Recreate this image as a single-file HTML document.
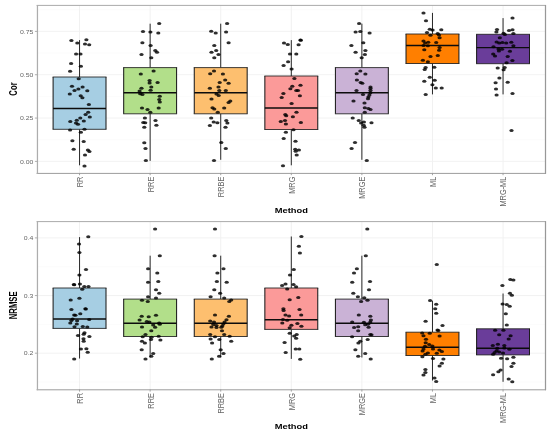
<!DOCTYPE html>
<html lang="en"><head><meta charset="utf-8"><title>Boxplots of Cor and NRMSE by Method</title>
<style>html,body{margin:0;padding:0;background:#fff}svg{display:block}text{font-family:"Liberation Sans",Arial,Helvetica,sans-serif}</style></head><body>
<svg width="550" height="433" viewBox="0 0 550 433">
<rect x="0" y="0" width="550" height="433" fill="#ffffff"/>
<g>
<line x1="37.2" x2="545.4" y1="139.73" y2="139.73" stroke="#f7f7f7" stroke-width="0.5"/>
<line x1="37.2" x2="545.4" y1="96.4" y2="96.4" stroke="#f7f7f7" stroke-width="0.5"/>
<line x1="37.2" x2="545.4" y1="53.07" y2="53.07" stroke="#f7f7f7" stroke-width="0.5"/>
<line x1="37.2" x2="545.4" y1="9.73" y2="9.73" stroke="#f7f7f7" stroke-width="0.5"/>
<line x1="37.2" x2="545.4" y1="161.4" y2="161.4" stroke="#f1f1f1" stroke-width="0.9"/>
<line x1="37.2" x2="545.4" y1="118.07" y2="118.07" stroke="#f1f1f1" stroke-width="0.9"/>
<line x1="37.2" x2="545.4" y1="74.73" y2="74.73" stroke="#f1f1f1" stroke-width="0.9"/>
<line x1="37.2" x2="545.4" y1="31.4" y2="31.4" stroke="#f1f1f1" stroke-width="0.9"/>
<line x1="79.55" x2="79.55" y1="5" y2="173" stroke="#f1f1f1" stroke-width="1"/>
<line x1="150.13" x2="150.13" y1="5" y2="173" stroke="#f1f1f1" stroke-width="1"/>
<line x1="220.72" x2="220.72" y1="5" y2="173" stroke="#f1f1f1" stroke-width="1"/>
<line x1="291.3" x2="291.3" y1="5" y2="173" stroke="#f1f1f1" stroke-width="1"/>
<line x1="361.88" x2="361.88" y1="5" y2="173" stroke="#f1f1f1" stroke-width="1"/>
<line x1="432.47" x2="432.47" y1="5" y2="173" stroke="#f1f1f1" stroke-width="1"/>
<line x1="503.05" x2="503.05" y1="5" y2="173" stroke="#f1f1f1" stroke-width="1"/>
</g>
<g stroke="#1c1c1c">
<line x1="79.55" x2="79.55" y1="40.1" y2="77" stroke-width="0.95"/>
<line x1="79.55" x2="79.55" y1="129.3" y2="165.3" stroke-width="0.95"/>
<rect x="53.1" y="77" width="52.9" height="52.3" fill="#A6CEE3" stroke="none"/>
<line x1="52.6" x2="106.5" y1="77" y2="77" stroke-width="0.85"/>
<line x1="52.6" x2="106.5" y1="129.3" y2="129.3" stroke-width="0.85"/>
<line x1="53.1" x2="53.1" y1="77" y2="129.3" stroke-width="1.05"/>
<line x1="106" x2="106" y1="77" y2="129.3" stroke-width="1.05"/>
<line x1="53.1" x2="106" y1="108.45" y2="108.45" stroke="#0c0c0c" stroke-width="1.45"/>
</g>
<g stroke="#1c1c1c">
<line x1="150.13" x2="150.13" y1="23.7" y2="67.6" stroke-width="0.95"/>
<line x1="150.13" x2="150.13" y1="113.8" y2="160.9" stroke-width="0.95"/>
<rect x="123.68" y="67.6" width="52.9" height="46.2" fill="#B2DF8A" stroke="none"/>
<line x1="123.18" x2="177.08" y1="67.6" y2="67.6" stroke-width="0.85"/>
<line x1="123.18" x2="177.08" y1="113.8" y2="113.8" stroke-width="0.85"/>
<line x1="123.68" x2="123.68" y1="67.6" y2="113.8" stroke-width="1.05"/>
<line x1="176.58" x2="176.58" y1="67.6" y2="113.8" stroke-width="1.05"/>
<line x1="123.68" x2="176.58" y1="92.7" y2="92.7" stroke="#0c0c0c" stroke-width="1.45"/>
</g>
<g stroke="#1c1c1c">
<line x1="220.72" x2="220.72" y1="23.7" y2="67.6" stroke-width="0.95"/>
<line x1="220.72" x2="220.72" y1="113.8" y2="159.8" stroke-width="0.95"/>
<rect x="194.27" y="67.6" width="52.9" height="46.2" fill="#FDBF6F" stroke="none"/>
<line x1="193.77" x2="247.67" y1="67.6" y2="67.6" stroke-width="0.85"/>
<line x1="193.77" x2="247.67" y1="113.8" y2="113.8" stroke-width="0.85"/>
<line x1="194.27" x2="194.27" y1="67.6" y2="113.8" stroke-width="1.05"/>
<line x1="247.17" x2="247.17" y1="67.6" y2="113.8" stroke-width="1.05"/>
<line x1="194.27" x2="247.17" y1="92.7" y2="92.7" stroke="#0c0c0c" stroke-width="1.45"/>
</g>
<g stroke="#1c1c1c">
<line x1="291.3" x2="291.3" y1="40.1" y2="76" stroke-width="0.95"/>
<line x1="291.3" x2="291.3" y1="129.5" y2="165.3" stroke-width="0.95"/>
<rect x="264.85" y="76" width="52.9" height="53.5" fill="#FB9A99" stroke="none"/>
<line x1="264.35" x2="318.25" y1="76" y2="76" stroke-width="0.85"/>
<line x1="264.35" x2="318.25" y1="129.5" y2="129.5" stroke-width="0.85"/>
<line x1="264.85" x2="264.85" y1="76" y2="129.5" stroke-width="1.05"/>
<line x1="317.75" x2="317.75" y1="76" y2="129.5" stroke-width="1.05"/>
<line x1="264.85" x2="317.75" y1="107.9" y2="107.9" stroke="#0c0c0c" stroke-width="1.45"/>
</g>
<g stroke="#1c1c1c">
<line x1="361.88" x2="361.88" y1="23.7" y2="67.6" stroke-width="0.95"/>
<line x1="361.88" x2="361.88" y1="113.8" y2="159.8" stroke-width="0.95"/>
<rect x="335.43" y="67.6" width="52.9" height="46.2" fill="#CAB2D6" stroke="none"/>
<line x1="334.93" x2="388.83" y1="67.6" y2="67.6" stroke-width="0.85"/>
<line x1="334.93" x2="388.83" y1="113.8" y2="113.8" stroke-width="0.85"/>
<line x1="335.43" x2="335.43" y1="67.6" y2="113.8" stroke-width="1.05"/>
<line x1="388.33" x2="388.33" y1="67.6" y2="113.8" stroke-width="1.05"/>
<line x1="335.43" x2="388.33" y1="92.7" y2="92.7" stroke="#0c0c0c" stroke-width="1.45"/>
</g>
<g stroke="#1c1c1c">
<line x1="432.47" x2="432.47" y1="12.9" y2="34" stroke-width="0.95"/>
<line x1="432.47" x2="432.47" y1="63.5" y2="94.4" stroke-width="0.95"/>
<rect x="406.02" y="34" width="52.9" height="29.5" fill="#FF7F00" stroke="none"/>
<line x1="405.52" x2="459.42" y1="34" y2="34" stroke-width="0.85"/>
<line x1="405.52" x2="459.42" y1="63.5" y2="63.5" stroke-width="0.85"/>
<line x1="406.02" x2="406.02" y1="34" y2="63.5" stroke-width="1.05"/>
<line x1="458.92" x2="458.92" y1="34" y2="63.5" stroke-width="1.05"/>
<line x1="406.02" x2="458.92" y1="45.5" y2="45.5" stroke="#0c0c0c" stroke-width="1.45"/>
</g>
<g stroke="#1c1c1c">
<line x1="503.05" x2="503.05" y1="18.1" y2="34.3" stroke-width="0.95"/>
<line x1="503.05" x2="503.05" y1="63.7" y2="94.4" stroke-width="0.95"/>
<rect x="476.6" y="34.3" width="52.9" height="29.4" fill="#6A3D9A" stroke="none"/>
<line x1="476.1" x2="530" y1="34.3" y2="34.3" stroke-width="0.85"/>
<line x1="476.1" x2="530" y1="63.7" y2="63.7" stroke-width="0.85"/>
<line x1="476.6" x2="476.6" y1="34.3" y2="63.7" stroke-width="1.05"/>
<line x1="529.5" x2="529.5" y1="34.3" y2="63.7" stroke-width="1.05"/>
<line x1="476.6" x2="529.5" y1="47.6" y2="47.6" stroke="#0c0c0c" stroke-width="1.45"/>
</g>
<g fill="#000000" fill-opacity="0.82">
<ellipse cx="71.4" cy="40.4" rx="2.1" ry="1.5"/>
<ellipse cx="86.4" cy="39.7" rx="2.1" ry="1.5"/>
<ellipse cx="77.3" cy="42.9" rx="2.1" ry="1.5"/>
<ellipse cx="85" cy="43.9" rx="2.1" ry="1.5"/>
<ellipse cx="89.2" cy="44.7" rx="2.1" ry="1.5"/>
<ellipse cx="76.1" cy="54" rx="2.1" ry="1.5"/>
<ellipse cx="80.5" cy="54" rx="2.1" ry="1.5"/>
<ellipse cx="71.1" cy="63.5" rx="2.1" ry="1.5"/>
<ellipse cx="80.9" cy="66.3" rx="2.1" ry="1.5"/>
<ellipse cx="70.1" cy="71.3" rx="2.1" ry="1.5"/>
<ellipse cx="78.7" cy="78.7" rx="2.1" ry="1.5"/>
<ellipse cx="72" cy="86.2" rx="2.1" ry="1.5"/>
<ellipse cx="82.6" cy="86.9" rx="2.1" ry="1.5"/>
<ellipse cx="78.4" cy="89.1" rx="2.1" ry="1.5"/>
<ellipse cx="74.5" cy="90.6" rx="2.1" ry="1.5"/>
<ellipse cx="87.3" cy="90.7" rx="2.1" ry="1.5"/>
<ellipse cx="69.8" cy="93.9" rx="2.1" ry="1.5"/>
<ellipse cx="80.7" cy="95.7" rx="2.1" ry="1.5"/>
<ellipse cx="82.4" cy="97.7" rx="2.1" ry="1.5"/>
<ellipse cx="88.9" cy="104.4" rx="2.1" ry="1.5"/>
<ellipse cx="88.2" cy="112.3" rx="2.1" ry="1.5"/>
<ellipse cx="85.6" cy="114.5" rx="2.1" ry="1.5"/>
<ellipse cx="89.8" cy="117.1" rx="2.1" ry="1.5"/>
<ellipse cx="80.3" cy="118" rx="2.1" ry="1.5"/>
<ellipse cx="76.8" cy="120.3" rx="2.1" ry="1.5"/>
<ellipse cx="83.8" cy="120.9" rx="2.1" ry="1.5"/>
<ellipse cx="70.3" cy="121.5" rx="2.1" ry="1.5"/>
<ellipse cx="76" cy="123" rx="2.1" ry="1.5"/>
<ellipse cx="78" cy="124.2" rx="2.1" ry="1.5"/>
<ellipse cx="70.1" cy="130.1" rx="2.1" ry="1.5"/>
<ellipse cx="84.5" cy="129.2" rx="2.1" ry="1.5"/>
<ellipse cx="80.9" cy="132.3" rx="2.1" ry="1.5"/>
<ellipse cx="72.4" cy="140.7" rx="2.1" ry="1.5"/>
<ellipse cx="83.7" cy="141.5" rx="2.1" ry="1.5"/>
<ellipse cx="73.7" cy="149.2" rx="2.1" ry="1.5"/>
<ellipse cx="87.9" cy="150.1" rx="2.1" ry="1.5"/>
<ellipse cx="89.4" cy="151.5" rx="2.1" ry="1.5"/>
<ellipse cx="85" cy="154.9" rx="2.1" ry="1.5"/>
<ellipse cx="84.5" cy="166" rx="2.1" ry="1.5"/>
<ellipse cx="159.2" cy="23.6" rx="2.1" ry="1.5"/>
<ellipse cx="143" cy="31.4" rx="2.1" ry="1.5"/>
<ellipse cx="150.4" cy="31.9" rx="2.1" ry="1.5"/>
<ellipse cx="158.3" cy="32.9" rx="2.1" ry="1.5"/>
<ellipse cx="142.4" cy="42.8" rx="2.1" ry="1.5"/>
<ellipse cx="150.6" cy="45.6" rx="2.1" ry="1.5"/>
<ellipse cx="155.3" cy="50.5" rx="2.1" ry="1.5"/>
<ellipse cx="157" cy="52.3" rx="2.1" ry="1.5"/>
<ellipse cx="141.5" cy="54.5" rx="2.1" ry="1.5"/>
<ellipse cx="151.3" cy="57.7" rx="2.1" ry="1.5"/>
<ellipse cx="153.6" cy="71.1" rx="2.1" ry="1.5"/>
<ellipse cx="140.8" cy="74" rx="2.1" ry="1.5"/>
<ellipse cx="149.6" cy="80.4" rx="2.1" ry="1.5"/>
<ellipse cx="149.6" cy="82.9" rx="2.1" ry="1.5"/>
<ellipse cx="157.6" cy="82.5" rx="2.1" ry="1.5"/>
<ellipse cx="151.3" cy="87" rx="2.1" ry="1.5"/>
<ellipse cx="141.5" cy="88.3" rx="2.1" ry="1.5"/>
<ellipse cx="150.6" cy="90.3" rx="2.1" ry="1.5"/>
<ellipse cx="139.6" cy="90.9" rx="2.1" ry="1.5"/>
<ellipse cx="140.2" cy="93.7" rx="2.1" ry="1.5"/>
<ellipse cx="142.4" cy="94.6" rx="2.1" ry="1.5"/>
<ellipse cx="159.8" cy="96.3" rx="2.1" ry="1.5"/>
<ellipse cx="159.3" cy="99.5" rx="2.1" ry="1.5"/>
<ellipse cx="159.8" cy="102" rx="2.1" ry="1.5"/>
<ellipse cx="158.7" cy="108" rx="2.1" ry="1.5"/>
<ellipse cx="142" cy="108.1" rx="2.1" ry="1.5"/>
<ellipse cx="147.5" cy="109.6" rx="2.1" ry="1.5"/>
<ellipse cx="150.3" cy="112.2" rx="2.1" ry="1.5"/>
<ellipse cx="144.9" cy="118" rx="2.1" ry="1.5"/>
<ellipse cx="155.5" cy="120.6" rx="2.1" ry="1.5"/>
<ellipse cx="143.3" cy="122.5" rx="2.1" ry="1.5"/>
<ellipse cx="145.2" cy="122.7" rx="2.1" ry="1.5"/>
<ellipse cx="156.4" cy="125.3" rx="2.1" ry="1.5"/>
<ellipse cx="144.3" cy="127.2" rx="2.1" ry="1.5"/>
<ellipse cx="144.3" cy="142.7" rx="2.1" ry="1.5"/>
<ellipse cx="145.5" cy="148.6" rx="2.1" ry="1.5"/>
<ellipse cx="145.9" cy="160.5" rx="2.1" ry="1.5"/>
<ellipse cx="227.1" cy="23.6" rx="2.1" ry="1.5"/>
<ellipse cx="211.2" cy="31.3" rx="2.1" ry="1.5"/>
<ellipse cx="215.7" cy="32.9" rx="2.1" ry="1.5"/>
<ellipse cx="226.1" cy="31.9" rx="2.1" ry="1.5"/>
<ellipse cx="228.6" cy="42.8" rx="2.1" ry="1.5"/>
<ellipse cx="214.3" cy="45.6" rx="2.1" ry="1.5"/>
<ellipse cx="216.2" cy="50.5" rx="2.1" ry="1.5"/>
<ellipse cx="211.5" cy="52.3" rx="2.1" ry="1.5"/>
<ellipse cx="218.5" cy="54.5" rx="2.1" ry="1.5"/>
<ellipse cx="214.3" cy="57.7" rx="2.1" ry="1.5"/>
<ellipse cx="214" cy="71.1" rx="2.1" ry="1.5"/>
<ellipse cx="210.2" cy="73.7" rx="2.1" ry="1.5"/>
<ellipse cx="222.9" cy="74" rx="2.1" ry="1.5"/>
<ellipse cx="225.2" cy="80.1" rx="2.1" ry="1.5"/>
<ellipse cx="219.7" cy="82.5" rx="2.1" ry="1.5"/>
<ellipse cx="228.6" cy="83.3" rx="2.1" ry="1.5"/>
<ellipse cx="218.5" cy="87" rx="2.1" ry="1.5"/>
<ellipse cx="209.9" cy="88.3" rx="2.1" ry="1.5"/>
<ellipse cx="219.3" cy="90.5" rx="2.1" ry="1.5"/>
<ellipse cx="225.8" cy="90.5" rx="2.1" ry="1.5"/>
<ellipse cx="216.5" cy="94.1" rx="2.1" ry="1.5"/>
<ellipse cx="218.7" cy="95.6" rx="2.1" ry="1.5"/>
<ellipse cx="211.5" cy="99.1" rx="2.1" ry="1.5"/>
<ellipse cx="230.3" cy="101" rx="2.1" ry="1.5"/>
<ellipse cx="228.6" cy="102.6" rx="2.1" ry="1.5"/>
<ellipse cx="212.5" cy="107.7" rx="2.1" ry="1.5"/>
<ellipse cx="214.3" cy="109" rx="2.1" ry="1.5"/>
<ellipse cx="224.2" cy="108.1" rx="2.1" ry="1.5"/>
<ellipse cx="217.8" cy="112.2" rx="2.1" ry="1.5"/>
<ellipse cx="211.2" cy="118" rx="2.1" ry="1.5"/>
<ellipse cx="226.3" cy="120.6" rx="2.1" ry="1.5"/>
<ellipse cx="213.7" cy="122.1" rx="2.1" ry="1.5"/>
<ellipse cx="217.4" cy="122.7" rx="2.1" ry="1.5"/>
<ellipse cx="227.4" cy="123.1" rx="2.1" ry="1.5"/>
<ellipse cx="209.9" cy="125.5" rx="2.1" ry="1.5"/>
<ellipse cx="225.5" cy="127.2" rx="2.1" ry="1.5"/>
<ellipse cx="221.3" cy="142.5" rx="2.1" ry="1.5"/>
<ellipse cx="225.8" cy="148.6" rx="2.1" ry="1.5"/>
<ellipse cx="214" cy="160.5" rx="2.1" ry="1.5"/>
<ellipse cx="300.5" cy="40" rx="2.1" ry="1.5"/>
<ellipse cx="300.8" cy="40.3" rx="2.1" ry="1.5"/>
<ellipse cx="284" cy="42.9" rx="2.1" ry="1.5"/>
<ellipse cx="287.8" cy="44.6" rx="2.1" ry="1.5"/>
<ellipse cx="298.6" cy="44.8" rx="2.1" ry="1.5"/>
<ellipse cx="290" cy="54" rx="2.1" ry="1.5"/>
<ellipse cx="296.3" cy="54.1" rx="2.1" ry="1.5"/>
<ellipse cx="288.1" cy="61.7" rx="2.1" ry="1.5"/>
<ellipse cx="283.6" cy="65.6" rx="2.1" ry="1.5"/>
<ellipse cx="291.6" cy="69" rx="2.1" ry="1.5"/>
<ellipse cx="294.4" cy="78.5" rx="2.1" ry="1.5"/>
<ellipse cx="300.5" cy="85.3" rx="2.1" ry="1.5"/>
<ellipse cx="292.3" cy="86.3" rx="2.1" ry="1.5"/>
<ellipse cx="290.4" cy="88.8" rx="2.1" ry="1.5"/>
<ellipse cx="296.3" cy="90.6" rx="2.1" ry="1.5"/>
<ellipse cx="298" cy="90.4" rx="2.1" ry="1.5"/>
<ellipse cx="283.4" cy="93.5" rx="2.1" ry="1.5"/>
<ellipse cx="299.9" cy="95.7" rx="2.1" ry="1.5"/>
<ellipse cx="281.7" cy="97.6" rx="2.1" ry="1.5"/>
<ellipse cx="291.6" cy="103.5" rx="2.1" ry="1.5"/>
<ellipse cx="296.5" cy="112.3" rx="2.1" ry="1.5"/>
<ellipse cx="285.3" cy="114.5" rx="2.1" ry="1.5"/>
<ellipse cx="286.2" cy="115.8" rx="2.1" ry="1.5"/>
<ellipse cx="292.9" cy="116.7" rx="2.1" ry="1.5"/>
<ellipse cx="285" cy="120.5" rx="2.1" ry="1.5"/>
<ellipse cx="280.8" cy="121.5" rx="2.1" ry="1.5"/>
<ellipse cx="300.9" cy="122.6" rx="2.1" ry="1.5"/>
<ellipse cx="285.9" cy="124" rx="2.1" ry="1.5"/>
<ellipse cx="293.5" cy="129.7" rx="2.1" ry="1.5"/>
<ellipse cx="285.9" cy="132.3" rx="2.1" ry="1.5"/>
<ellipse cx="283.7" cy="138.4" rx="2.1" ry="1.5"/>
<ellipse cx="295.5" cy="141.3" rx="2.1" ry="1.5"/>
<ellipse cx="295.2" cy="149.2" rx="2.1" ry="1.5"/>
<ellipse cx="298.9" cy="150.1" rx="2.1" ry="1.5"/>
<ellipse cx="295.7" cy="151.3" rx="2.1" ry="1.5"/>
<ellipse cx="296.7" cy="154.9" rx="2.1" ry="1.5"/>
<ellipse cx="283" cy="165.7" rx="2.1" ry="1.5"/>
<ellipse cx="359.1" cy="23.6" rx="2.1" ry="1.5"/>
<ellipse cx="355.6" cy="31.9" rx="2.1" ry="1.5"/>
<ellipse cx="360.3" cy="31.6" rx="2.1" ry="1.5"/>
<ellipse cx="369.6" cy="32.9" rx="2.1" ry="1.5"/>
<ellipse cx="363.3" cy="42.8" rx="2.1" ry="1.5"/>
<ellipse cx="351.4" cy="45.6" rx="2.1" ry="1.5"/>
<ellipse cx="365.4" cy="50.5" rx="2.1" ry="1.5"/>
<ellipse cx="355.6" cy="52.3" rx="2.1" ry="1.5"/>
<ellipse cx="364.9" cy="54.5" rx="2.1" ry="1.5"/>
<ellipse cx="361.7" cy="57.7" rx="2.1" ry="1.5"/>
<ellipse cx="360.3" cy="71.1" rx="2.1" ry="1.5"/>
<ellipse cx="356.7" cy="73.7" rx="2.1" ry="1.5"/>
<ellipse cx="365.4" cy="74" rx="2.1" ry="1.5"/>
<ellipse cx="356.9" cy="80.1" rx="2.1" ry="1.5"/>
<ellipse cx="360.7" cy="82.5" rx="2.1" ry="1.5"/>
<ellipse cx="362.3" cy="83.3" rx="2.1" ry="1.5"/>
<ellipse cx="370.5" cy="87" rx="2.1" ry="1.5"/>
<ellipse cx="370.5" cy="88.6" rx="2.1" ry="1.5"/>
<ellipse cx="356.5" cy="90.5" rx="2.1" ry="1.5"/>
<ellipse cx="370.5" cy="90.5" rx="2.1" ry="1.5"/>
<ellipse cx="370.3" cy="92.8" rx="2.1" ry="1.5"/>
<ellipse cx="363" cy="94.4" rx="2.1" ry="1.5"/>
<ellipse cx="369.4" cy="95" rx="2.1" ry="1.5"/>
<ellipse cx="368.4" cy="96.9" rx="2.1" ry="1.5"/>
<ellipse cx="368" cy="98.8" rx="2.1" ry="1.5"/>
<ellipse cx="353.5" cy="101.1" rx="2.1" ry="1.5"/>
<ellipse cx="364.5" cy="102.9" rx="2.1" ry="1.5"/>
<ellipse cx="364.8" cy="107.7" rx="2.1" ry="1.5"/>
<ellipse cx="368.4" cy="108.4" rx="2.1" ry="1.5"/>
<ellipse cx="370.5" cy="109.4" rx="2.1" ry="1.5"/>
<ellipse cx="364.8" cy="112.2" rx="2.1" ry="1.5"/>
<ellipse cx="352.7" cy="117.9" rx="2.1" ry="1.5"/>
<ellipse cx="358.8" cy="120.6" rx="2.1" ry="1.5"/>
<ellipse cx="363.9" cy="122.1" rx="2.1" ry="1.5"/>
<ellipse cx="361.1" cy="123" rx="2.1" ry="1.5"/>
<ellipse cx="371.5" cy="122.7" rx="2.1" ry="1.5"/>
<ellipse cx="363.7" cy="125.3" rx="2.1" ry="1.5"/>
<ellipse cx="364.5" cy="127.2" rx="2.1" ry="1.5"/>
<ellipse cx="355" cy="142.5" rx="2.1" ry="1.5"/>
<ellipse cx="351.6" cy="148.6" rx="2.1" ry="1.5"/>
<ellipse cx="366.8" cy="160.5" rx="2.1" ry="1.5"/>
<ellipse cx="423.5" cy="12.9" rx="2.1" ry="1.5"/>
<ellipse cx="426" cy="20.7" rx="2.1" ry="1.5"/>
<ellipse cx="429.8" cy="29.2" rx="2.1" ry="1.5"/>
<ellipse cx="432.6" cy="30.1" rx="2.1" ry="1.5"/>
<ellipse cx="441.3" cy="29.8" rx="2.1" ry="1.5"/>
<ellipse cx="427" cy="32.4" rx="2.1" ry="1.5"/>
<ellipse cx="437.7" cy="33.6" rx="2.1" ry="1.5"/>
<ellipse cx="439" cy="34.9" rx="2.1" ry="1.5"/>
<ellipse cx="430.5" cy="35.3" rx="2.1" ry="1.5"/>
<ellipse cx="439.6" cy="37.8" rx="2.1" ry="1.5"/>
<ellipse cx="423.5" cy="41" rx="2.1" ry="1.5"/>
<ellipse cx="428.2" cy="42.2" rx="2.1" ry="1.5"/>
<ellipse cx="425.1" cy="42.9" rx="2.1" ry="1.5"/>
<ellipse cx="436.2" cy="42.5" rx="2.1" ry="1.5"/>
<ellipse cx="423.5" cy="45.5" rx="2.1" ry="1.5"/>
<ellipse cx="427.9" cy="45.7" rx="2.1" ry="1.5"/>
<ellipse cx="439.6" cy="47.4" rx="2.1" ry="1.5"/>
<ellipse cx="424.3" cy="49.8" rx="2.1" ry="1.5"/>
<ellipse cx="439.1" cy="50.2" rx="2.1" ry="1.5"/>
<ellipse cx="437.8" cy="55.5" rx="2.1" ry="1.5"/>
<ellipse cx="430.5" cy="56.5" rx="2.1" ry="1.5"/>
<ellipse cx="422.9" cy="60.2" rx="2.1" ry="1.5"/>
<ellipse cx="427.9" cy="61.8" rx="2.1" ry="1.5"/>
<ellipse cx="434.3" cy="67.3" rx="2.1" ry="1.5"/>
<ellipse cx="425.6" cy="67.5" rx="2.1" ry="1.5"/>
<ellipse cx="424.7" cy="69.4" rx="2.1" ry="1.5"/>
<ellipse cx="429.8" cy="77.2" rx="2.1" ry="1.5"/>
<ellipse cx="434.7" cy="80.3" rx="2.1" ry="1.5"/>
<ellipse cx="424.3" cy="81.3" rx="2.1" ry="1.5"/>
<ellipse cx="432.4" cy="84.7" rx="2.1" ry="1.5"/>
<ellipse cx="435.8" cy="88" rx="2.1" ry="1.5"/>
<ellipse cx="441.7" cy="88" rx="2.1" ry="1.5"/>
<ellipse cx="425.7" cy="94.4" rx="2.1" ry="1.5"/>
<ellipse cx="512.5" cy="18.1" rx="2.1" ry="1.5"/>
<ellipse cx="497" cy="29.6" rx="2.1" ry="1.5"/>
<ellipse cx="496.4" cy="32.1" rx="2.1" ry="1.5"/>
<ellipse cx="509" cy="30.5" rx="2.1" ry="1.5"/>
<ellipse cx="512.5" cy="29.8" rx="2.1" ry="1.5"/>
<ellipse cx="503.6" cy="33.3" rx="2.1" ry="1.5"/>
<ellipse cx="504.9" cy="34.5" rx="2.1" ry="1.5"/>
<ellipse cx="513.4" cy="33.6" rx="2.1" ry="1.5"/>
<ellipse cx="499.8" cy="37.8" rx="2.1" ry="1.5"/>
<ellipse cx="496.6" cy="41.9" rx="2.1" ry="1.5"/>
<ellipse cx="502.4" cy="42.5" rx="2.1" ry="1.5"/>
<ellipse cx="499.2" cy="42.9" rx="2.1" ry="1.5"/>
<ellipse cx="506.2" cy="42.9" rx="2.1" ry="1.5"/>
<ellipse cx="511.3" cy="42.2" rx="2.1" ry="1.5"/>
<ellipse cx="513.4" cy="45.7" rx="2.1" ry="1.5"/>
<ellipse cx="493.5" cy="46.7" rx="2.1" ry="1.5"/>
<ellipse cx="498.5" cy="48.9" rx="2.1" ry="1.5"/>
<ellipse cx="502" cy="49.3" rx="2.1" ry="1.5"/>
<ellipse cx="498.9" cy="51.1" rx="2.1" ry="1.5"/>
<ellipse cx="510" cy="51.2" rx="2.1" ry="1.5"/>
<ellipse cx="493.2" cy="54" rx="2.1" ry="1.5"/>
<ellipse cx="495" cy="55.9" rx="2.1" ry="1.5"/>
<ellipse cx="507.7" cy="56.5" rx="2.1" ry="1.5"/>
<ellipse cx="512.4" cy="60.5" rx="2.1" ry="1.5"/>
<ellipse cx="506.6" cy="62.8" rx="2.1" ry="1.5"/>
<ellipse cx="497.7" cy="67.9" rx="2.1" ry="1.5"/>
<ellipse cx="504.7" cy="67.5" rx="2.1" ry="1.5"/>
<ellipse cx="503.6" cy="69.8" rx="2.1" ry="1.5"/>
<ellipse cx="499.4" cy="78.1" rx="2.1" ry="1.5"/>
<ellipse cx="495.6" cy="82.8" rx="2.1" ry="1.5"/>
<ellipse cx="507.7" cy="82.2" rx="2.1" ry="1.5"/>
<ellipse cx="496" cy="88.9" rx="2.1" ry="1.5"/>
<ellipse cx="512.5" cy="93.4" rx="2.1" ry="1.5"/>
<ellipse cx="496.6" cy="95" rx="2.1" ry="1.5"/>
<ellipse cx="511.5" cy="130.5" rx="2.1" ry="1.5"/>
</g>
<line x1="36.6" x2="546" y1="5.4" y2="5.4" stroke="#ababab" stroke-width="1"/>
<line x1="36.6" x2="546" y1="173.4" y2="173.4" stroke="#9c9c9c" stroke-width="1"/>
<line x1="37.45" x2="37.45" y1="5" y2="173.8" stroke="#adadad" stroke-width="1.25"/>
<line x1="545.5" x2="545.5" y1="5" y2="173.8" stroke="#989898" stroke-width="1.25"/>
<line x1="34.9" x2="37.2" y1="161.4" y2="161.4" stroke="#9a9a9a" stroke-width="0.8"/>
<line x1="34.9" x2="37.2" y1="118.07" y2="118.07" stroke="#9a9a9a" stroke-width="0.8"/>
<line x1="34.9" x2="37.2" y1="74.73" y2="74.73" stroke="#9a9a9a" stroke-width="0.8"/>
<line x1="34.9" x2="37.2" y1="31.4" y2="31.4" stroke="#9a9a9a" stroke-width="0.8"/>
<line x1="79.55" x2="79.55" y1="173" y2="175.2" stroke="#9a9a9a" stroke-width="0.9"/>
<line x1="150.13" x2="150.13" y1="173" y2="175.2" stroke="#9a9a9a" stroke-width="0.9"/>
<line x1="220.72" x2="220.72" y1="173" y2="175.2" stroke="#9a9a9a" stroke-width="0.9"/>
<line x1="291.3" x2="291.3" y1="173" y2="175.2" stroke="#9a9a9a" stroke-width="0.9"/>
<line x1="361.88" x2="361.88" y1="173" y2="175.2" stroke="#9a9a9a" stroke-width="0.9"/>
<line x1="432.47" x2="432.47" y1="173" y2="175.2" stroke="#9a9a9a" stroke-width="0.9"/>
<line x1="503.05" x2="503.05" y1="173" y2="175.2" stroke="#9a9a9a" stroke-width="0.9"/>
<g>
<line x1="37.2" x2="545.4" y1="382.02" y2="382.02" stroke="#f7f7f7" stroke-width="0.5"/>
<line x1="37.2" x2="545.4" y1="324.38" y2="324.38" stroke="#f7f7f7" stroke-width="0.5"/>
<line x1="37.2" x2="545.4" y1="266.73" y2="266.73" stroke="#f7f7f7" stroke-width="0.5"/>
<line x1="37.2" x2="545.4" y1="353.2" y2="353.2" stroke="#f1f1f1" stroke-width="0.9"/>
<line x1="37.2" x2="545.4" y1="295.55" y2="295.55" stroke="#f1f1f1" stroke-width="0.9"/>
<line x1="37.2" x2="545.4" y1="237.9" y2="237.9" stroke="#f1f1f1" stroke-width="0.9"/>
<line x1="79.55" x2="79.55" y1="221.2" y2="389.4" stroke="#f1f1f1" stroke-width="1"/>
<line x1="150.13" x2="150.13" y1="221.2" y2="389.4" stroke="#f1f1f1" stroke-width="1"/>
<line x1="220.72" x2="220.72" y1="221.2" y2="389.4" stroke="#f1f1f1" stroke-width="1"/>
<line x1="291.3" x2="291.3" y1="221.2" y2="389.4" stroke="#f1f1f1" stroke-width="1"/>
<line x1="361.88" x2="361.88" y1="221.2" y2="389.4" stroke="#f1f1f1" stroke-width="1"/>
<line x1="432.47" x2="432.47" y1="221.2" y2="389.4" stroke="#f1f1f1" stroke-width="1"/>
<line x1="503.05" x2="503.05" y1="221.2" y2="389.4" stroke="#f1f1f1" stroke-width="1"/>
</g>
<g stroke="#1c1c1c">
<line x1="79.55" x2="79.55" y1="237.1" y2="288" stroke-width="0.95"/>
<line x1="79.55" x2="79.55" y1="328.4" y2="358.5" stroke-width="0.95"/>
<rect x="53.1" y="288" width="52.9" height="40.4" fill="#A6CEE3" stroke="none"/>
<line x1="52.6" x2="106.5" y1="288" y2="288" stroke-width="0.85"/>
<line x1="52.6" x2="106.5" y1="328.4" y2="328.4" stroke-width="0.85"/>
<line x1="53.1" x2="53.1" y1="288" y2="328.4" stroke-width="1.05"/>
<line x1="106" x2="106" y1="288" y2="328.4" stroke-width="1.05"/>
<line x1="53.1" x2="106" y1="318.9" y2="318.9" stroke="#0c0c0c" stroke-width="1.45"/>
</g>
<g stroke="#1c1c1c">
<line x1="150.13" x2="150.13" y1="255.7" y2="299.1" stroke-width="0.95"/>
<line x1="150.13" x2="150.13" y1="336.5" y2="357.5" stroke-width="0.95"/>
<rect x="123.68" y="299.1" width="52.9" height="37.4" fill="#B2DF8A" stroke="none"/>
<line x1="123.18" x2="177.08" y1="299.1" y2="299.1" stroke-width="0.85"/>
<line x1="123.18" x2="177.08" y1="336.5" y2="336.5" stroke-width="0.85"/>
<line x1="123.68" x2="123.68" y1="299.1" y2="336.5" stroke-width="1.05"/>
<line x1="176.58" x2="176.58" y1="299.1" y2="336.5" stroke-width="1.05"/>
<line x1="123.68" x2="176.58" y1="323.3" y2="323.3" stroke="#0c0c0c" stroke-width="1.45"/>
</g>
<g stroke="#1c1c1c">
<line x1="220.72" x2="220.72" y1="255.7" y2="299.1" stroke-width="0.95"/>
<line x1="220.72" x2="220.72" y1="336.5" y2="357.5" stroke-width="0.95"/>
<rect x="194.27" y="299.1" width="52.9" height="37.4" fill="#FDBF6F" stroke="none"/>
<line x1="193.77" x2="247.67" y1="299.1" y2="299.1" stroke-width="0.85"/>
<line x1="193.77" x2="247.67" y1="336.5" y2="336.5" stroke-width="0.85"/>
<line x1="194.27" x2="194.27" y1="299.1" y2="336.5" stroke-width="1.05"/>
<line x1="247.17" x2="247.17" y1="299.1" y2="336.5" stroke-width="1.05"/>
<line x1="194.27" x2="247.17" y1="323.3" y2="323.3" stroke="#0c0c0c" stroke-width="1.45"/>
</g>
<g stroke="#1c1c1c">
<line x1="291.3" x2="291.3" y1="236.5" y2="288" stroke-width="0.95"/>
<line x1="291.3" x2="291.3" y1="329.4" y2="358.9" stroke-width="0.95"/>
<rect x="264.85" y="288" width="52.9" height="41.4" fill="#FB9A99" stroke="none"/>
<line x1="264.35" x2="318.25" y1="288" y2="288" stroke-width="0.85"/>
<line x1="264.35" x2="318.25" y1="329.4" y2="329.4" stroke-width="0.85"/>
<line x1="264.85" x2="264.85" y1="288" y2="329.4" stroke-width="1.05"/>
<line x1="317.75" x2="317.75" y1="288" y2="329.4" stroke-width="1.05"/>
<line x1="264.85" x2="317.75" y1="319.8" y2="319.8" stroke="#0c0c0c" stroke-width="1.45"/>
</g>
<g stroke="#1c1c1c">
<line x1="361.88" x2="361.88" y1="255.7" y2="299.1" stroke-width="0.95"/>
<line x1="361.88" x2="361.88" y1="336.5" y2="357.5" stroke-width="0.95"/>
<rect x="335.43" y="299.1" width="52.9" height="37.4" fill="#CAB2D6" stroke="none"/>
<line x1="334.93" x2="388.83" y1="299.1" y2="299.1" stroke-width="0.85"/>
<line x1="334.93" x2="388.83" y1="336.5" y2="336.5" stroke-width="0.85"/>
<line x1="335.43" x2="335.43" y1="299.1" y2="336.5" stroke-width="1.05"/>
<line x1="388.33" x2="388.33" y1="299.1" y2="336.5" stroke-width="1.05"/>
<line x1="335.43" x2="388.33" y1="323.3" y2="323.3" stroke="#0c0c0c" stroke-width="1.45"/>
</g>
<g stroke="#1c1c1c">
<line x1="432.47" x2="432.47" y1="300.8" y2="332.2" stroke-width="0.95"/>
<line x1="432.47" x2="432.47" y1="355.5" y2="380.5" stroke-width="0.95"/>
<rect x="406.02" y="332.2" width="52.9" height="23.3" fill="#FF7F00" stroke="none"/>
<line x1="405.52" x2="459.42" y1="332.2" y2="332.2" stroke-width="0.85"/>
<line x1="405.52" x2="459.42" y1="355.5" y2="355.5" stroke-width="0.85"/>
<line x1="406.02" x2="406.02" y1="332.2" y2="355.5" stroke-width="1.05"/>
<line x1="458.92" x2="458.92" y1="332.2" y2="355.5" stroke-width="1.05"/>
<line x1="406.02" x2="458.92" y1="347.2" y2="347.2" stroke="#0c0c0c" stroke-width="1.45"/>
</g>
<g stroke="#1c1c1c">
<line x1="503.05" x2="503.05" y1="293.5" y2="328.8" stroke-width="0.95"/>
<line x1="503.05" x2="503.05" y1="354.9" y2="381.8" stroke-width="0.95"/>
<rect x="476.6" y="328.8" width="52.9" height="26.1" fill="#6A3D9A" stroke="none"/>
<line x1="476.1" x2="530" y1="328.8" y2="328.8" stroke-width="0.85"/>
<line x1="476.1" x2="530" y1="354.9" y2="354.9" stroke-width="0.85"/>
<line x1="476.6" x2="476.6" y1="328.8" y2="354.9" stroke-width="1.05"/>
<line x1="529.5" x2="529.5" y1="328.8" y2="354.9" stroke-width="1.05"/>
<line x1="476.6" x2="529.5" y1="348.2" y2="348.2" stroke="#0c0c0c" stroke-width="1.45"/>
</g>
<g fill="#000000" fill-opacity="0.82">
<ellipse cx="88.3" cy="236.8" rx="2.1" ry="1.5"/>
<ellipse cx="79" cy="244.1" rx="2.1" ry="1.5"/>
<ellipse cx="79.4" cy="252.4" rx="2.1" ry="1.5"/>
<ellipse cx="86" cy="269.5" rx="2.1" ry="1.5"/>
<ellipse cx="79.4" cy="275" rx="2.1" ry="1.5"/>
<ellipse cx="73.9" cy="284.5" rx="2.1" ry="1.5"/>
<ellipse cx="74.2" cy="284.7" rx="2.1" ry="1.5"/>
<ellipse cx="79.9" cy="283.9" rx="2.1" ry="1.5"/>
<ellipse cx="84.3" cy="286.5" rx="2.1" ry="1.5"/>
<ellipse cx="88.5" cy="286.5" rx="2.1" ry="1.5"/>
<ellipse cx="82.2" cy="289.3" rx="2.1" ry="1.5"/>
<ellipse cx="79.4" cy="298.3" rx="2.1" ry="1.5"/>
<ellipse cx="70.7" cy="300.1" rx="2.1" ry="1.5"/>
<ellipse cx="85.4" cy="308.7" rx="2.1" ry="1.5"/>
<ellipse cx="85.8" cy="308.9" rx="2.1" ry="1.5"/>
<ellipse cx="71.4" cy="309.4" rx="2.1" ry="1.5"/>
<ellipse cx="80.3" cy="313.8" rx="2.1" ry="1.5"/>
<ellipse cx="74.2" cy="315.1" rx="2.1" ry="1.5"/>
<ellipse cx="75.4" cy="315.2" rx="2.1" ry="1.5"/>
<ellipse cx="72.6" cy="318.9" rx="2.1" ry="1.5"/>
<ellipse cx="89.2" cy="319.5" rx="2.1" ry="1.5"/>
<ellipse cx="71.4" cy="320.6" rx="2.1" ry="1.5"/>
<ellipse cx="77.1" cy="320.8" rx="2.1" ry="1.5"/>
<ellipse cx="70.3" cy="323" rx="2.1" ry="1.5"/>
<ellipse cx="76.8" cy="324" rx="2.1" ry="1.5"/>
<ellipse cx="74.5" cy="326.8" rx="2.1" ry="1.5"/>
<ellipse cx="82.8" cy="326.5" rx="2.1" ry="1.5"/>
<ellipse cx="87.3" cy="326.9" rx="2.1" ry="1.5"/>
<ellipse cx="84.5" cy="332.8" rx="2.1" ry="1.5"/>
<ellipse cx="83.7" cy="334.3" rx="2.1" ry="1.5"/>
<ellipse cx="78" cy="335.4" rx="2.1" ry="1.5"/>
<ellipse cx="89.4" cy="336.4" rx="2.1" ry="1.5"/>
<ellipse cx="83.5" cy="338.8" rx="2.1" ry="1.5"/>
<ellipse cx="83.7" cy="341.3" rx="2.1" ry="1.5"/>
<ellipse cx="80.9" cy="349.1" rx="2.1" ry="1.5"/>
<ellipse cx="86.4" cy="348.7" rx="2.1" ry="1.5"/>
<ellipse cx="87.7" cy="352.2" rx="2.1" ry="1.5"/>
<ellipse cx="74.2" cy="358.9" rx="2.1" ry="1.5"/>
<ellipse cx="155.1" cy="229" rx="2.1" ry="1.5"/>
<ellipse cx="159.8" cy="255.7" rx="2.1" ry="1.5"/>
<ellipse cx="148.1" cy="268.8" rx="2.1" ry="1.5"/>
<ellipse cx="157.3" cy="272.9" rx="2.1" ry="1.5"/>
<ellipse cx="148.1" cy="282.2" rx="2.1" ry="1.5"/>
<ellipse cx="158.3" cy="281.5" rx="2.1" ry="1.5"/>
<ellipse cx="156" cy="289.8" rx="2.1" ry="1.5"/>
<ellipse cx="159.2" cy="293.3" rx="2.1" ry="1.5"/>
<ellipse cx="148.1" cy="296.8" rx="2.1" ry="1.5"/>
<ellipse cx="156" cy="298.1" rx="2.1" ry="1.5"/>
<ellipse cx="142" cy="300.3" rx="2.1" ry="1.5"/>
<ellipse cx="147.8" cy="301.5" rx="2.1" ry="1.5"/>
<ellipse cx="156" cy="315.3" rx="2.1" ry="1.5"/>
<ellipse cx="141.7" cy="316.3" rx="2.1" ry="1.5"/>
<ellipse cx="148.7" cy="316.8" rx="2.1" ry="1.5"/>
<ellipse cx="139.6" cy="320" rx="2.1" ry="1.5"/>
<ellipse cx="146.8" cy="321.6" rx="2.1" ry="1.5"/>
<ellipse cx="149.4" cy="322" rx="2.1" ry="1.5"/>
<ellipse cx="159.2" cy="322.9" rx="2.1" ry="1.5"/>
<ellipse cx="159.8" cy="324.2" rx="2.1" ry="1.5"/>
<ellipse cx="153.2" cy="325" rx="2.1" ry="1.5"/>
<ellipse cx="142" cy="327" rx="2.1" ry="1.5"/>
<ellipse cx="155.1" cy="327.3" rx="2.1" ry="1.5"/>
<ellipse cx="151.3" cy="330.7" rx="2.1" ry="1.5"/>
<ellipse cx="145.5" cy="334.5" rx="2.1" ry="1.5"/>
<ellipse cx="142.7" cy="336.8" rx="2.1" ry="1.5"/>
<ellipse cx="158.7" cy="336.2" rx="2.1" ry="1.5"/>
<ellipse cx="151.5" cy="337.3" rx="2.1" ry="1.5"/>
<ellipse cx="151" cy="339.4" rx="2.1" ry="1.5"/>
<ellipse cx="160.4" cy="339.9" rx="2.1" ry="1.5"/>
<ellipse cx="142" cy="341.2" rx="2.1" ry="1.5"/>
<ellipse cx="144.9" cy="343.1" rx="2.1" ry="1.5"/>
<ellipse cx="141.7" cy="349.8" rx="2.1" ry="1.5"/>
<ellipse cx="153.2" cy="353.4" rx="2.1" ry="1.5"/>
<ellipse cx="151.3" cy="356.2" rx="2.1" ry="1.5"/>
<ellipse cx="145.5" cy="359.1" rx="2.1" ry="1.5"/>
<ellipse cx="215" cy="229" rx="2.1" ry="1.5"/>
<ellipse cx="214.6" cy="255.7" rx="2.1" ry="1.5"/>
<ellipse cx="223.5" cy="268.8" rx="2.1" ry="1.5"/>
<ellipse cx="217.4" cy="272.9" rx="2.1" ry="1.5"/>
<ellipse cx="216.9" cy="281.5" rx="2.1" ry="1.5"/>
<ellipse cx="226.7" cy="282.2" rx="2.1" ry="1.5"/>
<ellipse cx="214.3" cy="289.8" rx="2.1" ry="1.5"/>
<ellipse cx="220.1" cy="293.3" rx="2.1" ry="1.5"/>
<ellipse cx="210.6" cy="296.8" rx="2.1" ry="1.5"/>
<ellipse cx="224.2" cy="298.1" rx="2.1" ry="1.5"/>
<ellipse cx="231.2" cy="300" rx="2.1" ry="1.5"/>
<ellipse cx="229.3" cy="301.5" rx="2.1" ry="1.5"/>
<ellipse cx="215" cy="315" rx="2.1" ry="1.5"/>
<ellipse cx="228.9" cy="316.3" rx="2.1" ry="1.5"/>
<ellipse cx="226.5" cy="319.7" rx="2.1" ry="1.5"/>
<ellipse cx="210.2" cy="321" rx="2.1" ry="1.5"/>
<ellipse cx="214" cy="321.9" rx="2.1" ry="1.5"/>
<ellipse cx="224.6" cy="322" rx="2.1" ry="1.5"/>
<ellipse cx="223.3" cy="323.9" rx="2.1" ry="1.5"/>
<ellipse cx="213.4" cy="324.4" rx="2.1" ry="1.5"/>
<ellipse cx="216.5" cy="325.5" rx="2.1" ry="1.5"/>
<ellipse cx="222.3" cy="326.1" rx="2.1" ry="1.5"/>
<ellipse cx="211.5" cy="326.9" rx="2.1" ry="1.5"/>
<ellipse cx="216.5" cy="327.4" rx="2.1" ry="1.5"/>
<ellipse cx="221.3" cy="327.2" rx="2.1" ry="1.5"/>
<ellipse cx="222" cy="330.7" rx="2.1" ry="1.5"/>
<ellipse cx="210.2" cy="334.5" rx="2.1" ry="1.5"/>
<ellipse cx="224.2" cy="334.5" rx="2.1" ry="1.5"/>
<ellipse cx="215" cy="336.8" rx="2.1" ry="1.5"/>
<ellipse cx="229.7" cy="336.2" rx="2.1" ry="1.5"/>
<ellipse cx="210.6" cy="339" rx="2.1" ry="1.5"/>
<ellipse cx="219.3" cy="339.6" rx="2.1" ry="1.5"/>
<ellipse cx="231.2" cy="341.2" rx="2.1" ry="1.5"/>
<ellipse cx="212.1" cy="343.1" rx="2.1" ry="1.5"/>
<ellipse cx="220.7" cy="349.8" rx="2.1" ry="1.5"/>
<ellipse cx="223.5" cy="353.4" rx="2.1" ry="1.5"/>
<ellipse cx="219.1" cy="356.2" rx="2.1" ry="1.5"/>
<ellipse cx="211.8" cy="359.1" rx="2.1" ry="1.5"/>
<ellipse cx="301.4" cy="236.5" rx="2.1" ry="1.5"/>
<ellipse cx="298.9" cy="246.3" rx="2.1" ry="1.5"/>
<ellipse cx="299.9" cy="253" rx="2.1" ry="1.5"/>
<ellipse cx="293.8" cy="269.5" rx="2.1" ry="1.5"/>
<ellipse cx="290" cy="275" rx="2.1" ry="1.5"/>
<ellipse cx="285.5" cy="283.9" rx="2.1" ry="1.5"/>
<ellipse cx="282.1" cy="285.6" rx="2.1" ry="1.5"/>
<ellipse cx="293.5" cy="284.5" rx="2.1" ry="1.5"/>
<ellipse cx="296.1" cy="286.7" rx="2.1" ry="1.5"/>
<ellipse cx="287.2" cy="289" rx="2.1" ry="1.5"/>
<ellipse cx="298.3" cy="297.5" rx="2.1" ry="1.5"/>
<ellipse cx="289.7" cy="299.8" rx="2.1" ry="1.5"/>
<ellipse cx="283.4" cy="308.7" rx="2.1" ry="1.5"/>
<ellipse cx="283.6" cy="310.6" rx="2.1" ry="1.5"/>
<ellipse cx="299.5" cy="309.4" rx="2.1" ry="1.5"/>
<ellipse cx="301.2" cy="315.1" rx="2.1" ry="1.5"/>
<ellipse cx="285.5" cy="315.1" rx="2.1" ry="1.5"/>
<ellipse cx="289.1" cy="316" rx="2.1" ry="1.5"/>
<ellipse cx="283" cy="319.5" rx="2.1" ry="1.5"/>
<ellipse cx="287.2" cy="320.2" rx="2.1" ry="1.5"/>
<ellipse cx="282.3" cy="323.1" rx="2.1" ry="1.5"/>
<ellipse cx="297.4" cy="323.4" rx="2.1" ry="1.5"/>
<ellipse cx="291.4" cy="325.3" rx="2.1" ry="1.5"/>
<ellipse cx="301.4" cy="326.3" rx="2.1" ry="1.5"/>
<ellipse cx="289.7" cy="327.8" rx="2.1" ry="1.5"/>
<ellipse cx="289.7" cy="333.2" rx="2.1" ry="1.5"/>
<ellipse cx="296.7" cy="334.5" rx="2.1" ry="1.5"/>
<ellipse cx="294.2" cy="336" rx="2.1" ry="1.5"/>
<ellipse cx="296.1" cy="338.3" rx="2.1" ry="1.5"/>
<ellipse cx="284.6" cy="342.4" rx="2.1" ry="1.5"/>
<ellipse cx="295.7" cy="349" rx="2.1" ry="1.5"/>
<ellipse cx="299.3" cy="349.1" rx="2.1" ry="1.5"/>
<ellipse cx="285.7" cy="352.5" rx="2.1" ry="1.5"/>
<ellipse cx="300.2" cy="359.3" rx="2.1" ry="1.5"/>
<ellipse cx="367.3" cy="229" rx="2.1" ry="1.5"/>
<ellipse cx="365.8" cy="255.7" rx="2.1" ry="1.5"/>
<ellipse cx="356.9" cy="268.8" rx="2.1" ry="1.5"/>
<ellipse cx="354" cy="272.9" rx="2.1" ry="1.5"/>
<ellipse cx="352.2" cy="282.2" rx="2.1" ry="1.5"/>
<ellipse cx="370" cy="281.5" rx="2.1" ry="1.5"/>
<ellipse cx="369" cy="289.8" rx="2.1" ry="1.5"/>
<ellipse cx="353.3" cy="293.3" rx="2.1" ry="1.5"/>
<ellipse cx="357.9" cy="296.8" rx="2.1" ry="1.5"/>
<ellipse cx="364.3" cy="297.8" rx="2.1" ry="1.5"/>
<ellipse cx="367.5" cy="300.3" rx="2.1" ry="1.5"/>
<ellipse cx="361.1" cy="301.5" rx="2.1" ry="1.5"/>
<ellipse cx="358.8" cy="315" rx="2.1" ry="1.5"/>
<ellipse cx="370.3" cy="316.3" rx="2.1" ry="1.5"/>
<ellipse cx="370.9" cy="320.1" rx="2.1" ry="1.5"/>
<ellipse cx="352.2" cy="321.9" rx="2.1" ry="1.5"/>
<ellipse cx="363.9" cy="322.3" rx="2.1" ry="1.5"/>
<ellipse cx="370.3" cy="322" rx="2.1" ry="1.5"/>
<ellipse cx="368" cy="324.2" rx="2.1" ry="1.5"/>
<ellipse cx="365.2" cy="324.8" rx="2.1" ry="1.5"/>
<ellipse cx="358.2" cy="326.7" rx="2.1" ry="1.5"/>
<ellipse cx="354.1" cy="327.5" rx="2.1" ry="1.5"/>
<ellipse cx="368.6" cy="327.2" rx="2.1" ry="1.5"/>
<ellipse cx="358.2" cy="330.7" rx="2.1" ry="1.5"/>
<ellipse cx="370.3" cy="334.5" rx="2.1" ry="1.5"/>
<ellipse cx="371.5" cy="334.7" rx="2.1" ry="1.5"/>
<ellipse cx="352.1" cy="336.8" rx="2.1" ry="1.5"/>
<ellipse cx="367.7" cy="339.4" rx="2.1" ry="1.5"/>
<ellipse cx="360.3" cy="341.2" rx="2.1" ry="1.5"/>
<ellipse cx="358.4" cy="343.1" rx="2.1" ry="1.5"/>
<ellipse cx="355.4" cy="349.8" rx="2.1" ry="1.5"/>
<ellipse cx="365.2" cy="353.4" rx="2.1" ry="1.5"/>
<ellipse cx="358.2" cy="356.2" rx="2.1" ry="1.5"/>
<ellipse cx="370.7" cy="359.1" rx="2.1" ry="1.5"/>
<ellipse cx="436.8" cy="264.5" rx="2.1" ry="1.5"/>
<ellipse cx="430.1" cy="300.4" rx="2.1" ry="1.5"/>
<ellipse cx="436.2" cy="304.3" rx="2.1" ry="1.5"/>
<ellipse cx="435.2" cy="308.7" rx="2.1" ry="1.5"/>
<ellipse cx="436.2" cy="313.2" rx="2.1" ry="1.5"/>
<ellipse cx="425.6" cy="321.3" rx="2.1" ry="1.5"/>
<ellipse cx="442.5" cy="325.5" rx="2.1" ry="1.5"/>
<ellipse cx="437.5" cy="330" rx="2.1" ry="1.5"/>
<ellipse cx="438.3" cy="330.4" rx="2.1" ry="1.5"/>
<ellipse cx="422.2" cy="332.9" rx="2.1" ry="1.5"/>
<ellipse cx="429.8" cy="333.2" rx="2.1" ry="1.5"/>
<ellipse cx="423.5" cy="335.7" rx="2.1" ry="1.5"/>
<ellipse cx="439.6" cy="336.1" rx="2.1" ry="1.5"/>
<ellipse cx="426" cy="339.2" rx="2.1" ry="1.5"/>
<ellipse cx="425.7" cy="342.7" rx="2.1" ry="1.5"/>
<ellipse cx="429.2" cy="344.6" rx="2.1" ry="1.5"/>
<ellipse cx="432.4" cy="345.9" rx="2.1" ry="1.5"/>
<ellipse cx="425" cy="346.3" rx="2.1" ry="1.5"/>
<ellipse cx="423.5" cy="349.1" rx="2.1" ry="1.5"/>
<ellipse cx="433" cy="349.1" rx="2.1" ry="1.5"/>
<ellipse cx="439.4" cy="350.1" rx="2.1" ry="1.5"/>
<ellipse cx="422.6" cy="351" rx="2.1" ry="1.5"/>
<ellipse cx="441.9" cy="351.6" rx="2.1" ry="1.5"/>
<ellipse cx="427.9" cy="352.9" rx="2.1" ry="1.5"/>
<ellipse cx="436.8" cy="353.2" rx="2.1" ry="1.5"/>
<ellipse cx="425.4" cy="354.2" rx="2.1" ry="1.5"/>
<ellipse cx="422.4" cy="356.8" rx="2.1" ry="1.5"/>
<ellipse cx="433" cy="358.5" rx="2.1" ry="1.5"/>
<ellipse cx="443.4" cy="359.1" rx="2.1" ry="1.5"/>
<ellipse cx="441.9" cy="363.3" rx="2.1" ry="1.5"/>
<ellipse cx="439.6" cy="366.1" rx="2.1" ry="1.5"/>
<ellipse cx="425.4" cy="369.5" rx="2.1" ry="1.5"/>
<ellipse cx="425.4" cy="372.5" rx="2.1" ry="1.5"/>
<ellipse cx="423.5" cy="375" rx="2.1" ry="1.5"/>
<ellipse cx="434.5" cy="377.9" rx="2.1" ry="1.5"/>
<ellipse cx="436.2" cy="381.6" rx="2.1" ry="1.5"/>
<ellipse cx="510.3" cy="279.5" rx="2.1" ry="1.5"/>
<ellipse cx="513.4" cy="279.9" rx="2.1" ry="1.5"/>
<ellipse cx="502.4" cy="285.5" rx="2.1" ry="1.5"/>
<ellipse cx="510" cy="293.3" rx="2.1" ry="1.5"/>
<ellipse cx="511.9" cy="295.2" rx="2.1" ry="1.5"/>
<ellipse cx="502.6" cy="304.1" rx="2.1" ry="1.5"/>
<ellipse cx="506.8" cy="304.4" rx="2.1" ry="1.5"/>
<ellipse cx="509.7" cy="306.3" rx="2.1" ry="1.5"/>
<ellipse cx="505.8" cy="313.7" rx="2.1" ry="1.5"/>
<ellipse cx="506.8" cy="325" rx="2.1" ry="1.5"/>
<ellipse cx="495.1" cy="330.3" rx="2.1" ry="1.5"/>
<ellipse cx="503.4" cy="330.3" rx="2.1" ry="1.5"/>
<ellipse cx="499.2" cy="334.8" rx="2.1" ry="1.5"/>
<ellipse cx="510.6" cy="335.8" rx="2.1" ry="1.5"/>
<ellipse cx="508.7" cy="339" rx="2.1" ry="1.5"/>
<ellipse cx="497.9" cy="344.3" rx="2.1" ry="1.5"/>
<ellipse cx="492.8" cy="345.4" rx="2.1" ry="1.5"/>
<ellipse cx="504.3" cy="345.4" rx="2.1" ry="1.5"/>
<ellipse cx="497.3" cy="348.3" rx="2.1" ry="1.5"/>
<ellipse cx="504.3" cy="347.9" rx="2.1" ry="1.5"/>
<ellipse cx="509.4" cy="349.2" rx="2.1" ry="1.5"/>
<ellipse cx="496.6" cy="350.8" rx="2.1" ry="1.5"/>
<ellipse cx="499.2" cy="352.1" rx="2.1" ry="1.5"/>
<ellipse cx="494.7" cy="352.4" rx="2.1" ry="1.5"/>
<ellipse cx="503" cy="353" rx="2.1" ry="1.5"/>
<ellipse cx="493.1" cy="354.3" rx="2.1" ry="1.5"/>
<ellipse cx="501.1" cy="358.3" rx="2.1" ry="1.5"/>
<ellipse cx="507.1" cy="358.7" rx="2.1" ry="1.5"/>
<ellipse cx="513.4" cy="357.2" rx="2.1" ry="1.5"/>
<ellipse cx="513.4" cy="363.2" rx="2.1" ry="1.5"/>
<ellipse cx="511.5" cy="366.6" rx="2.1" ry="1.5"/>
<ellipse cx="500.6" cy="370.1" rx="2.1" ry="1.5"/>
<ellipse cx="498.4" cy="371.7" rx="2.1" ry="1.5"/>
<ellipse cx="493.1" cy="374.8" rx="2.1" ry="1.5"/>
<ellipse cx="508.7" cy="379" rx="2.1" ry="1.5"/>
<ellipse cx="512.3" cy="381.8" rx="2.1" ry="1.5"/>
</g>
<line x1="36.6" x2="546" y1="221.6" y2="221.6" stroke="#ababab" stroke-width="1"/>
<line x1="36.6" x2="546" y1="389.8" y2="389.8" stroke="#9c9c9c" stroke-width="1"/>
<line x1="37.45" x2="37.45" y1="221.2" y2="390.2" stroke="#adadad" stroke-width="1.25"/>
<line x1="545.5" x2="545.5" y1="221.2" y2="390.2" stroke="#989898" stroke-width="1.25"/>
<line x1="34.9" x2="37.2" y1="353.2" y2="353.2" stroke="#9a9a9a" stroke-width="0.8"/>
<line x1="34.9" x2="37.2" y1="295.55" y2="295.55" stroke="#9a9a9a" stroke-width="0.8"/>
<line x1="34.9" x2="37.2" y1="237.9" y2="237.9" stroke="#9a9a9a" stroke-width="0.8"/>
<line x1="79.55" x2="79.55" y1="389.4" y2="391.6" stroke="#9a9a9a" stroke-width="0.9"/>
<line x1="150.13" x2="150.13" y1="389.4" y2="391.6" stroke="#9a9a9a" stroke-width="0.9"/>
<line x1="220.72" x2="220.72" y1="389.4" y2="391.6" stroke="#9a9a9a" stroke-width="0.9"/>
<line x1="291.3" x2="291.3" y1="389.4" y2="391.6" stroke="#9a9a9a" stroke-width="0.9"/>
<line x1="361.88" x2="361.88" y1="389.4" y2="391.6" stroke="#9a9a9a" stroke-width="0.9"/>
<line x1="432.47" x2="432.47" y1="389.4" y2="391.6" stroke="#9a9a9a" stroke-width="0.9"/>
<line x1="503.05" x2="503.05" y1="389.4" y2="391.6" stroke="#9a9a9a" stroke-width="0.9"/>
<g opacity="0.999">
<text transform="translate(33.4,163.5) scale(1.17,1)" font-size="5.9" text-anchor="end" fill="#666666">0.00</text>
<text transform="translate(33.4,120.17) scale(1.17,1)" font-size="5.9" text-anchor="end" fill="#666666">0.25</text>
<text transform="translate(33.4,76.83) scale(1.17,1)" font-size="5.9" text-anchor="end" fill="#666666">0.50</text>
<text transform="translate(33.4,33.5) scale(1.17,1)" font-size="5.9" text-anchor="end" fill="#666666">0.75</text>
<text transform="translate(82.95,176.6) scale(1.3,1) rotate(-90)" font-size="7.4" text-anchor="end" fill="#666666">RR</text>
<text transform="translate(153.53,176.6) scale(1.3,1) rotate(-90)" font-size="7.4" text-anchor="end" fill="#666666">RRE</text>
<text transform="translate(224.12,176.6) scale(1.3,1) rotate(-90)" font-size="7.4" text-anchor="end" fill="#666666">RRBE</text>
<text transform="translate(294.7,176.6) scale(1.3,1) rotate(-90)" font-size="7.4" text-anchor="end" fill="#666666">MRG</text>
<text transform="translate(365.28,176.6) scale(1.3,1) rotate(-90)" font-size="7.4" text-anchor="end" fill="#666666">MRGE</text>
<text transform="translate(435.87,176.6) scale(1.3,1) rotate(-90)" font-size="7.4" text-anchor="end" fill="#666666">ML</text>
<text transform="translate(506.45,176.6) scale(1.3,1) rotate(-90)" font-size="7.4" text-anchor="end" fill="#666666">MRG-ML</text>
<text transform="translate(291.3,213.35) scale(1.265,1)" font-size="7.4" font-weight="bold" text-anchor="middle" fill="#000">Method</text>
<text transform="translate(16.5,89) scale(1.3,1) rotate(-90)" font-size="7.7" font-weight="bold" text-anchor="middle" fill="#000">Cor</text>
<text transform="translate(33.4,355.3) scale(1.17,1)" font-size="5.9" text-anchor="end" fill="#666666">0.2</text>
<text transform="translate(33.4,297.65) scale(1.17,1)" font-size="5.9" text-anchor="end" fill="#666666">0.3</text>
<text transform="translate(33.4,240) scale(1.17,1)" font-size="5.9" text-anchor="end" fill="#666666">0.4</text>
<text transform="translate(82.95,393) scale(1.3,1) rotate(-90)" font-size="7.4" text-anchor="end" fill="#666666">RR</text>
<text transform="translate(153.53,393) scale(1.3,1) rotate(-90)" font-size="7.4" text-anchor="end" fill="#666666">RRE</text>
<text transform="translate(224.12,393) scale(1.3,1) rotate(-90)" font-size="7.4" text-anchor="end" fill="#666666">RRBE</text>
<text transform="translate(294.7,393) scale(1.3,1) rotate(-90)" font-size="7.4" text-anchor="end" fill="#666666">MRG</text>
<text transform="translate(365.28,393) scale(1.3,1) rotate(-90)" font-size="7.4" text-anchor="end" fill="#666666">MRGE</text>
<text transform="translate(435.87,393) scale(1.3,1) rotate(-90)" font-size="7.4" text-anchor="end" fill="#666666">ML</text>
<text transform="translate(506.45,393) scale(1.3,1) rotate(-90)" font-size="7.4" text-anchor="end" fill="#666666">MRG-ML</text>
<text transform="translate(291.3,429.15) scale(1.265,1)" font-size="7.4" font-weight="bold" text-anchor="middle" fill="#000">Method</text>
<text transform="translate(16.5,305.3) scale(1.3,1) rotate(-90)" font-size="7.7" font-weight="bold" text-anchor="middle" fill="#000">NRMSE</text>
</g>
</svg></body></html>
